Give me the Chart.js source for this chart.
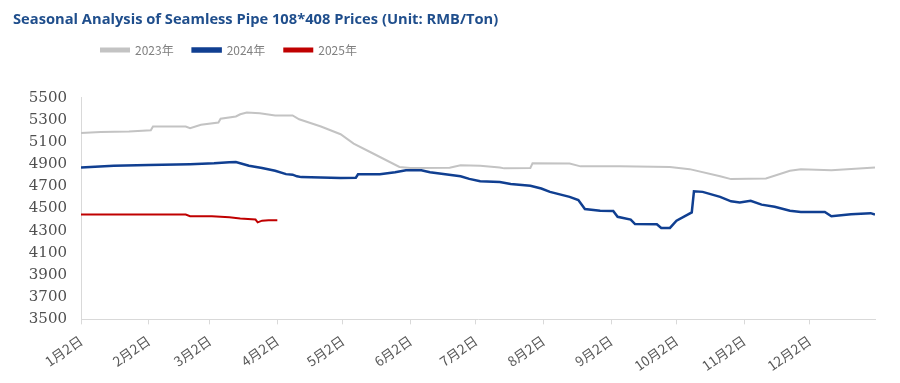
<!DOCTYPE html>
<html>
<head>
<meta charset="utf-8">
<script src="https://cdn.jsdelivr.net/npm/chart.js@4"></script>
<style>
  html, body { margin: 0; padding: 0; background: #fff; }
  #wrap { width: 900px; height: 383px; }
</style>
</head>
<body>
<div id="wrap"><canvas id="lineChart"></canvas></div>
<script>
// x = days since Jan 2
const tickDays = [0, 31, 59, 90, 120, 151, 181, 212, 243, 273, 304, 334];
const tickLabels = ['1月2日', '2月2日', '3月2日', '4月2日', '5月2日', '6月2日',
  '7月2日', '8月2日', '9月2日', '10月2日', '11月2日', '12月2日'];

const days2023 = [0, 9, 22, 32, 33, 48, 50, 55, 63, 64, 71, 73, 76, 82, 89, 97, 100, 110, 119, 125,
  133, 146, 151, 169, 174, 183, 192, 194, 206, 207, 224, 229, 247, 270, 279, 293, 298, 314, 325,
  330, 344, 364];
const vals2023 = [5180, 5190, 5195, 5205, 5240, 5240, 5225, 5255, 5275, 5310, 5330, 5350, 5365, 5360,
  5340, 5340, 5305, 5240, 5170, 5085, 5005, 4875, 4865, 4868, 4890, 4885, 4870, 4862, 4865, 4908,
  4905, 4880, 4880, 4875, 4855, 4790, 4765, 4770, 4840, 4855, 4845, 4870];

const days2024 = [0, 15, 31, 50, 61, 68, 71, 77, 83, 89, 94, 97, 99, 101, 119, 126, 127, 137, 144, 149,
  156, 160, 167, 174, 178, 183, 192, 197, 206, 211, 215, 224, 228, 231, 238, 244, 246, 252, 254,
  264, 266, 270, 273, 280, 281, 285, 293, 298, 302, 307, 312, 318, 325, 330, 341, 344, 353, 362, 364];
const vals2024 = [4870, 4885, 4893, 4900, 4908, 4917, 4920, 4885, 4866, 4840, 4810, 4805, 4790, 4783,
  4775, 4778, 4808, 4810, 4827, 4845, 4845, 4827, 4809, 4791, 4767, 4745, 4738, 4722, 4705, 4680,
  4650, 4605, 4576, 4495, 4480, 4478, 4425, 4400, 4360, 4358, 4325, 4325, 4390, 4465, 4655, 4650,
  4605, 4565, 4555, 4570, 4535, 4515, 4480, 4468, 4468, 4430, 4448, 4458, 4445];

const days2025 = [0, 20, 48, 50, 60, 68, 73, 80, 81, 83, 86, 90];
const vals2025 = [4445, 4445, 4445, 4430, 4430, 4420, 4410, 4400, 4375, 4390, 4395, 4395];

function toPoints(days, vals) {
  return days.map((d, i) => ({ x: d, y: vals[i] }));
}

// legend sits left of centre and close under the title in the original
const legendShift = {
  id: 'legendShift',
  beforeDraw(chart) {
    chart.legend.left = 82;
    chart.legend.top = 25;
  }
};

const ctx = document.getElementById('lineChart').getContext('2d');
new Chart(ctx, {
  type: 'line',
  data: {
    datasets: [
      { label: '2023年', data: toPoints(days2023, vals2023), borderColor: '#c3c3c3', backgroundColor: '#c3c3c3', borderWidth: 2 },
      { label: '2024年', data: toPoints(days2024, vals2024), borderColor: '#103f91', backgroundColor: '#103f91', borderWidth: 2.5 },
      { label: '2025年', data: toPoints(days2025, vals2025), borderColor: '#c00000', backgroundColor: '#c00000', borderWidth: 2 }
    ]
  },
  options: {
    responsive: true,
    maintainAspectRatio: false,
    animation: false,
    elements: { point: { radius: 0 }, line: { tension: 0 } },
    layout: { padding: { left: 13, right: 25, top: 0, bottom: 1 } },
    plugins: {
      title: {
        display: true,
        align: 'start',
        text: 'Seasonal Analysis of Seamless Pipe 108*408 Prices (Unit: RMB/Ton)',
        color: '#1f4e8c',
        font: { family: 'Open Sans', size: 14.7, weight: 'bold' },
        padding: { top: 11, bottom: 28 }
      },
      legend: {
        align: 'start',
        labels: {
          boxWidth: 28,
          boxHeight: 3,
          padding: 19,
          color: '#808080',
          font: { family: 'Noto Sans CJK SC', size: 12 }
        }
      },
      tooltip: { enabled: false }
    },
    scales: {
      x: {
        type: 'linear',
        min: 0,
        max: 364,
        afterBuildTicks(scale) {
          scale.ticks = tickDays.map(v => ({ value: v }));
        },
        ticks: {
          autoSkip: false,
          maxRotation: 35,
          minRotation: 35,
          padding: 8,
          color: '#595959',
          font: { family: 'Noto Sans CJK SC', size: 13.5 },
          callback: (v) => tickLabels[tickDays.indexOf(v)]
        },
        grid: { drawOnChartArea: false, drawTicks: true, tickLength: 5, color: '#d9d9d9' },
        border: { color: '#d9d9d9' }
      },
      y: {
        min: 3500,
        max: 5500,
        afterFit(scale) { scale.width = 68; },
        ticks: {
          stepSize: 200,
          padding: 14,
          color: '#505050',
          font: { family: 'DejaVu Serif', size: 15 },
          callback: (v) => String(v)
        },
        grid: { display: false, drawTicks: false },
        border: { display: true, color: '#d9d9d9' }
      }
    }
  },
  plugins: [legendShift]
});
</script>
</body>
</html>
